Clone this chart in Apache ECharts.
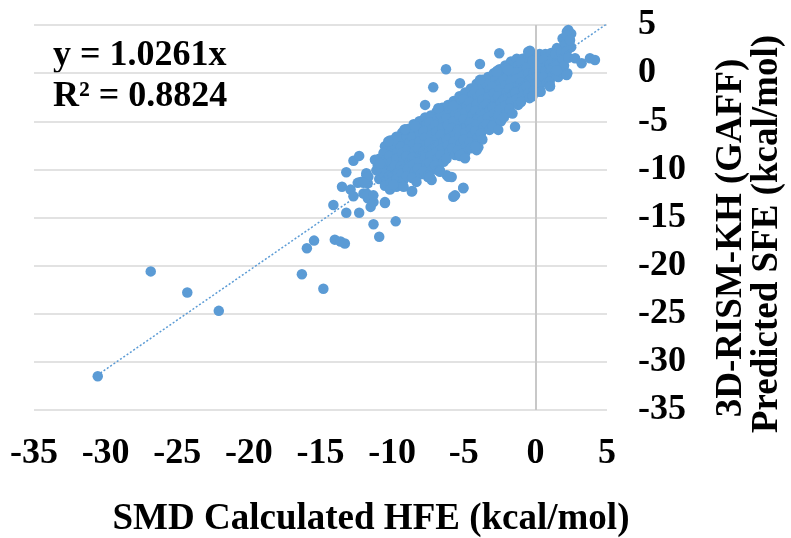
<!DOCTYPE html>
<html>
<head>
<meta charset="utf-8">
<script src="https://cdn.jsdelivr.net/npm/echarts@6/dist/echarts.min.js"></script>
<style>
  html, body { margin: 0; padding: 0; background: #fff; }
  #chart { width: 791px; height: 538px; }
</style>
</head>
<body>
<div id="chart"></div>
<script>
const chart = echarts.init(document.getElementById('chart'));

// axis ticks
const xTicks = [-35, -30, -25, -20, -15, -10, -5, 0, 5];
const yTicks = [-35, -30, -25, -20, -15, -10, -5, 0, 5];

// [SMD calculated HFE, 3D-RISM-KH predicted SFE] -- dense cloud, read column by column
const cloudPoints = [
    [-10.9, -8.9], [-11.0, -9.6], [-10.8, -10.3], [-10.9, -11.0],
    [-10.5, -7.6], [-10.6, -8.3], [-10.4, -9.0], [-10.5, -9.7], [-10.6, -10.4], [-10.4, -11.1], [-10.5, -11.7],
    [-10.1, -7.2], [-10.0, -7.9], [-10.2, -8.6], [-10.1, -9.3], [-10.0, -10.0], [-10.2, -10.7], [-10.1, -11.4],
    [-9.7, -6.8], [-9.8, -7.5], [-9.6, -8.2], [-9.7, -8.9], [-9.8, -9.6], [-9.6, -10.3], [-9.7, -11.0], [-9.8, -11.6],
    [-9.3, -6.2], [-9.2, -6.9], [-9.4, -7.6], [-9.3, -8.3], [-9.2, -9.0], [-9.4, -9.7], [-9.3, -10.4], [-9.2, -11.1],
    [-8.9, -5.8], [-9.0, -6.5], [-8.8, -7.2], [-8.9, -7.9], [-9.0, -8.6], [-8.8, -9.3], [-8.9, -10.0], [-9.0, -10.7],
    [-8.5, -5.3], [-8.4, -6.0], [-8.6, -6.7], [-8.5, -7.4], [-8.4, -8.1], [-8.6, -8.8], [-8.5, -9.5], [-8.4, -10.2], [-8.6, -10.9],
    [-8.1, -5.0], [-8.2, -5.7], [-8.0, -6.4], [-8.1, -7.1], [-8.2, -7.8], [-8.0, -8.5], [-8.1, -9.2], [-8.2, -9.9], [-8.0, -10.5],
    [-7.7, -4.6], [-7.6, -5.3], [-7.8, -6.0], [-7.7, -6.7], [-7.6, -7.4], [-7.8, -8.1], [-7.7, -8.8], [-7.6, -9.5], [-7.8, -10.2],
    [-7.3, -4.4], [-7.4, -5.1], [-7.2, -5.8], [-7.3, -6.5], [-7.4, -7.2], [-7.2, -7.9], [-7.3, -8.6], [-7.4, -9.3], [-7.2, -10.0],
    [-6.9, -4.0], [-6.8, -4.7], [-7.0, -5.4], [-6.9, -6.1], [-6.8, -6.8], [-7.0, -7.5], [-6.9, -8.2], [-6.8, -8.9], [-7.0, -9.6],
    [-6.5, -3.6], [-6.6, -4.3], [-6.4, -5.0], [-6.5, -5.7], [-6.6, -6.4], [-6.4, -7.1], [-6.5, -7.8], [-6.6, -8.5], [-6.4, -9.2],
    [-6.1, -3.3], [-6.0, -4.0], [-6.2, -4.7], [-6.1, -5.4], [-6.0, -6.1], [-6.2, -6.8], [-6.1, -7.5], [-6.0, -8.2], [-6.2, -8.9],
    [-5.7, -2.9], [-5.8, -3.6], [-5.6, -4.3], [-5.7, -5.0], [-5.8, -5.7], [-5.6, -6.4], [-5.7, -7.1], [-5.8, -7.8], [-5.6, -8.5],
    [-5.3, -2.4], [-5.2, -3.1], [-5.4, -3.8], [-5.3, -4.5], [-5.2, -5.2], [-5.4, -5.9], [-5.3, -6.6], [-5.2, -7.3], [-5.4, -8.0], [-5.3, -8.6],
    [-4.9, -2.0], [-5.0, -2.7], [-4.8, -3.4], [-4.9, -4.1], [-5.0, -4.8], [-4.8, -5.5], [-4.9, -6.2], [-5.0, -6.9], [-4.8, -7.6], [-4.9, -8.3],
    [-4.5, -1.6], [-4.4, -2.3], [-4.6, -3.0], [-4.5, -3.7], [-4.4, -4.4], [-4.6, -5.1], [-4.5, -5.8], [-4.4, -6.5], [-4.6, -7.2], [-4.5, -7.8],
    [-4.1, -1.1], [-4.2, -1.8], [-4.0, -2.5], [-4.1, -3.2], [-4.2, -3.9], [-4.0, -4.6], [-4.1, -5.3], [-4.2, -6.0], [-4.0, -6.7], [-4.1, -7.4],
    [-3.7, -0.7], [-3.6, -1.4], [-3.8, -2.1], [-3.7, -2.8], [-3.6, -3.5], [-3.8, -4.2], [-3.7, -4.9], [-3.6, -5.6], [-3.8, -6.3], [-3.7, -6.9],
    [-3.3, -0.4], [-3.4, -1.1], [-3.2, -1.8], [-3.3, -2.5], [-3.4, -3.2], [-3.2, -3.9], [-3.3, -4.6], [-3.4, -5.3], [-3.2, -5.9],
    [-2.9, 0.0], [-2.8, -0.7], [-3.0, -1.4], [-2.9, -2.1], [-2.8, -2.8], [-3.0, -3.5], [-2.9, -4.2], [-2.8, -4.9], [-3.0, -5.5],
    [-2.5, 0.4], [-2.6, -0.3], [-2.4, -1.0], [-2.5, -1.7], [-2.6, -2.4], [-2.4, -3.1], [-2.5, -3.8], [-2.6, -4.5], [-2.4, -5.0],
    [-2.1, 0.8], [-2.0, 0.1], [-2.2, -0.6], [-2.1, -1.3], [-2.0, -2.0], [-2.2, -2.7], [-2.1, -3.4], [-2.0, -4.1], [-2.2, -4.6],
    [-1.7, 1.2], [-1.8, 0.5], [-1.6, -0.2], [-1.7, -0.9], [-1.8, -1.6], [-1.6, -2.3], [-1.7, -3.0], [-1.8, -3.7], [-1.6, -4.2],
    [-1.3, 1.5], [-1.2, 0.8], [-1.4, 0.1], [-1.3, -0.6], [-1.2, -1.3], [-1.4, -2.0], [-1.3, -2.7], [-1.2, -3.3],
    [-0.9, 1.5], [-1.0, 1.1], [-0.8, 0.4], [-0.9, -0.3], [-1.0, -1.0], [-0.8, -1.7], [-0.9, -2.4], [-1.0, -3.0],
    [-0.5, 1.8], [-0.4, 1.2], [-0.6, 0.6], [-0.5, 0.0], [-0.4, -0.7], [-0.6, -1.4], [-0.5, -2.1], [-0.4, -2.6],
    [-0.1, 1.9], [-0.2, 1.3], [0.0, 0.7], [-0.1, 0.1], [-0.2, -0.5], [0.0, -1.1], [-0.1, -1.8], [-0.2, -2.4],
    [0.3, 2.0], [0.4, 1.4], [0.2, 0.8], [0.3, 0.2], [0.4, -0.4], [0.2, -1.0], [0.3, -1.6],
    [0.7, 2.0], [0.6, 1.4], [0.8, 0.8], [0.7, 0.2], [0.6, -0.4], [0.8, -1.0],
    [1.1, 2.1], [1.2, 1.5], [1.0, 0.9], [1.1, 0.3], [1.2, -0.3], [1.0, -0.9],
    [1.5, 2.6], [1.4, 2.0], [1.6, 1.4], [1.5, 0.8], [1.4, 0.2], [1.6, -0.4],
    [1.9, 3.6], [2.0, 2.9], [1.8, 2.2], [1.9, 1.5], [2.0, 0.8], [1.8, 0.1],
    [2.2, 4.3], [2.3, 3.7], [2.1, 3.0], [2.2, 2.3], [2.3, 1.6],
    [2.5, 4.1], [2.4, 3.4], [2.5, 2.7]
];

// scattered points around the cloud
const outlierPoints = [
    [-30.55, -31.5], [-26.85, -20.6], [-24.3, -22.8], [-22.1, -24.7], [-16.3, -20.9], [-14.8, -22.4],
    [-15.95, -18.2], [-15.45, -17.4], [-14.0, -17.3], [-13.6, -17.5], [-13.3, -17.7], [-10.9, -17.0],
    [-11.3, -15.7], [-9.75, -15.4], [-14.1, -13.7], [-13.2, -14.5], [-12.3, -14.5], [-11.5, -13.9],
    [-10.5, -13.5], [-13.5, -11.8], [-12.9, -12.1], [-12.7, -12.8], [-12.0, -12.5], [-11.7, -13.0],
    [-11.3, -13.4], [-13.2, -10.3], [-12.7, -9.1], [-12.3, -8.6], [-12.2, -11.3], [-11.7, -11.45],
    [-12.4, -11.4], [-11.1, -10.1], [-11.8, -10.6], [-11.2, -9.0], [-10.7, -9.3], [-10.15, -7.0],
    [-9.7, -6.6], [-9.15, -5.9], [-8.4, -5.5], [-8.6, -12.25], [-10.15, -12.1], [-9.7, -11.8],
    [-9.2, -11.8], [-8.3, -11.3], [-7.5, -10.8], [-6.8, -10.1], [-6.24, 0.4], [-3.87, 0.95],
    [-7.13, -1.47], [-7.7, -3.3], [-6.78, -3.65], [-5.73, -3.4], [-9.1, -5.84], [-1.42, -5.57],
    [-5.03, -8.7], [-3.98, -7.7], [-6.66, -10.1], [-6.19, -10.6], [-5.84, -10.8], [-5.03, -11.9],
    [-7.47, -10.6], [-7.24, -11.1], [-2.59, 0.15], [-2.0, 0.5], [-2.52, 2.06], [-0.38, 2.33],
    [-2.66, 0.25], [2.3, 4.48], [2.18, 3.96], [2.42, 3.44], [2.77, 1.54], [3.23, 1.02],
    [3.81, 1.54], [4.16, 1.36], [2.23, -0.02], [1.02, -1.3], [0.32, -1.93], [-2.59, -5.9],
    [-1.89, 0.32], [-0.5, 2.23], [-5.73, -12.84], [-5.03, -11.97], [-4.1, -8.0], [-5.26, -1.06],
    [-9.92, -6.95], [-10.27, -7.1], [-10.85, -9.4], [-11.8, -10.4], [-11.66, -10.76], [-12.0, -11.4],
    [-11.78, -12.5], [-11.31, -12.7], [-10.5, -13.4], [-8.63, -12.3], [-9.92, -11.6], [-7.36, -10.76],
    [-6.66, -10.24], [-6.08, -10.76], [-5.61, -12.7], [-5.26, -8.5], [-4.91, -8.85], [-4.2, -7.6],
    [-2.7, 0.15], [2.18, -0.2], [1.5, 0.3], [-3.87, -0.7], [0.37, -1.93], [1.02, -1.4]
];

// linear trend through origin, y = 1.0261x
const trendPoints = [[-30.6, -31.4], [5.0, 5.13]];

const serif = 'Liberation Serif';

chart.setOption({
    backgroundColor: '#fff',
    animation: false,
    grid: {
        left: 34,
        right: 184,
        top: 25,
        bottom: 128,
        outerBoundsMode: 'none'
    },
    xAxis: {
        type: 'value',
        min: xTicks[0],
        max: xTicks[xTicks.length - 1],
        interval: 5,
        axisLine: { show: false },
        axisTick: { show: false },
        splitLine: { show: false },
        axisLabel: {
            margin: 26,
            color: '#000',
            fontFamily: serif,
            fontWeight: 'bold',
            fontSize: 36
        }
    },
    yAxis: {
        type: 'value',
        position: 'right',
        min: yTicks[0],
        max: yTicks[yTicks.length - 1],
        interval: 5,
        axisLine: { show: false },
        axisTick: { show: false },
        splitLine: { show: true, lineStyle: { color: '#d9d9d9', width: 1.5 } },
        axisLabel: {
            margin: 31,
            color: '#000',
            fontFamily: serif,
            fontWeight: 'bold',
            fontSize: 36
        }
    },
    graphic: [
        { type: 'text', left: 53, top: 38, style: { text: 'y = 1.0261x', fill: '#000', font: 'bold 36px "Liberation Serif"' } },
        { type: 'text', left: 53, top: 79, style: { text: 'R² = 0.8824', fill: '#000', font: 'bold 36px "Liberation Serif"' } },
        {
            type: 'text', x: 371, y: 519,
            style: { text: 'SMD Calculated HFE (kcal/mol)', fill: '#000', font: 'bold 37px "Liberation Serif"', align: 'center', verticalAlign: 'middle' }
        },
        {
            type: 'text', x: 731, y: 238, rotation: Math.PI / 2,
            style: { text: '3D-RISM-KH (GAFF)', fill: '#000', font: 'bold 37px "Liberation Serif"', align: 'center', verticalAlign: 'middle' }
        },
        {
            type: 'text', x: 767, y: 234, rotation: Math.PI / 2,
            style: { text: 'Predicted SFE (kcal/mol)', fill: '#000', font: 'bold 37px "Liberation Serif"', align: 'center', verticalAlign: 'middle' }
        }
    ],
    series: [
        {
            type: 'scatter',
            data: cloudPoints.concat(outlierPoints),
            symbol: 'circle',
            symbolSize: 10.5,
            itemStyle: { color: '#5b9bd5', opacity: 1 },
            markLine: {
                silent: true,
                symbol: 'none',
                label: { show: false },
                lineStyle: { color: '#c8c8c8', width: 2, type: 'solid' },
                data: [{ xAxis: 0 }]
            },
            z: 3
        },
        {
            type: 'line',
            data: trendPoints,
            showSymbol: false,
            symbol: 'none',
            clip: true,
            lineStyle: { color: '#5b9bd5', width: 1.5, type: [2, 2] },
            z: 4
        }
    ]
});
</script>
</body>
</html>
